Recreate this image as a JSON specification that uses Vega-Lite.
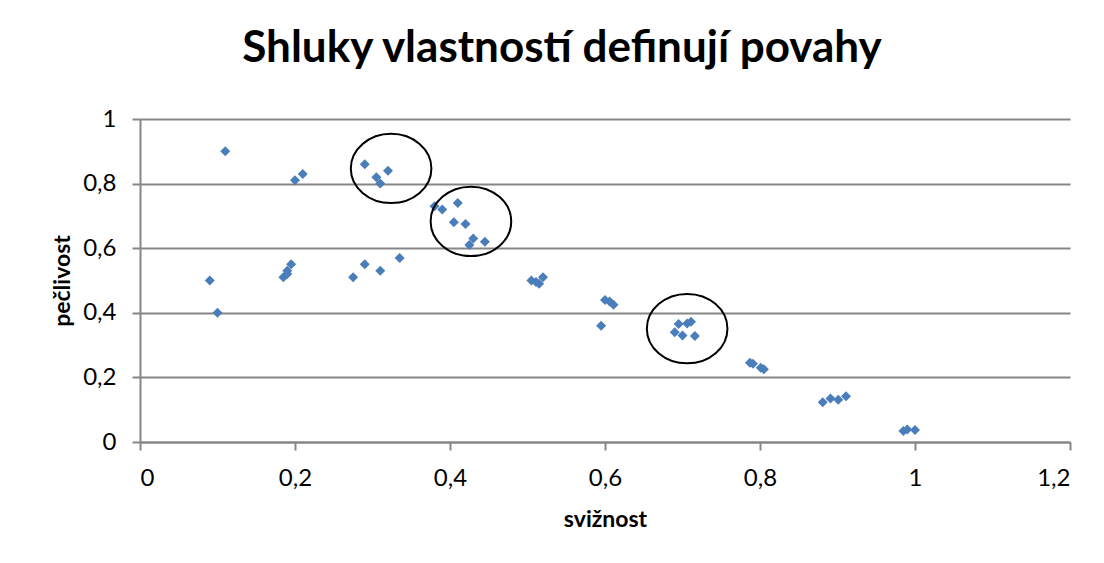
{
  "$schema": "https://vega.github.io/schema/vega-lite/v6.json",
  "autosize": {"type": "none"},
  "width": 930,
  "height": 323,
  "padding": {"left": 140, "top": 119, "right": 34, "bottom": 121},
  "background": "white",
  "title": {
    "text": "Shluky vlastností definují povahy",
    "font": "Lato",
    "fontSize": 44,
    "fontWeight": "bold",
    "color": "black",
    "anchor": "middle",
    "frame": "group",
    "dx": -43,
    "dy": 39,
    "baseline": "alphabetic",
    "offset": 40
  },
  "config": {
    "view": {"stroke": null},
    "axis": {
      "labelFont": "Lato",
      "labelFontSize": 24,
      "labelColor": "black",
      "titleFont": "Lato",
      "titleFontSize": 23,
      "titleFontWeight": "bold",
      "titleColor": "black",
      "domainColor": "#868686",
      "domainWidth": 2,
      "tickColor": "#868686",
      "tickWidth": 2,
      "tickSize": 8,
      "gridColor": "#868686",
      "gridWidth": 2
    }
  },
  "datasets": {
    "points": [
      {"svizn": 0.09, "peclivost": 0.50},
      {"svizn": 0.10, "peclivost": 0.40},
      {"svizn": 0.11, "peclivost": 0.90},
      {"svizn": 0.185, "peclivost": 0.51},
      {"svizn": 0.19, "peclivost": 0.52},
      {"svizn": 0.19, "peclivost": 0.53},
      {"svizn": 0.195, "peclivost": 0.55},
      {"svizn": 0.20, "peclivost": 0.81},
      {"svizn": 0.21, "peclivost": 0.83},
      {"svizn": 0.275, "peclivost": 0.51},
      {"svizn": 0.29, "peclivost": 0.55},
      {"svizn": 0.29, "peclivost": 0.86},
      {"svizn": 0.305, "peclivost": 0.82},
      {"svizn": 0.31, "peclivost": 0.80},
      {"svizn": 0.31, "peclivost": 0.53},
      {"svizn": 0.32, "peclivost": 0.84},
      {"svizn": 0.335, "peclivost": 0.57},
      {"svizn": 0.38, "peclivost": 0.73},
      {"svizn": 0.39, "peclivost": 0.72},
      {"svizn": 0.405, "peclivost": 0.68},
      {"svizn": 0.41, "peclivost": 0.74},
      {"svizn": 0.42, "peclivost": 0.675},
      {"svizn": 0.425, "peclivost": 0.61},
      {"svizn": 0.43, "peclivost": 0.63},
      {"svizn": 0.445, "peclivost": 0.62},
      {"svizn": 0.505, "peclivost": 0.50},
      {"svizn": 0.511, "peclivost": 0.495},
      {"svizn": 0.515, "peclivost": 0.49},
      {"svizn": 0.52, "peclivost": 0.51},
      {"svizn": 0.595, "peclivost": 0.36},
      {"svizn": 0.60, "peclivost": 0.44},
      {"svizn": 0.606, "peclivost": 0.435},
      {"svizn": 0.611, "peclivost": 0.425},
      {"svizn": 0.69, "peclivost": 0.34},
      {"svizn": 0.695, "peclivost": 0.365},
      {"svizn": 0.70, "peclivost": 0.33},
      {"svizn": 0.706, "peclivost": 0.367},
      {"svizn": 0.711, "peclivost": 0.372},
      {"svizn": 0.716, "peclivost": 0.328},
      {"svizn": 0.787, "peclivost": 0.245},
      {"svizn": 0.791, "peclivost": 0.242},
      {"svizn": 0.801, "peclivost": 0.23},
      {"svizn": 0.805, "peclivost": 0.225},
      {"svizn": 0.881, "peclivost": 0.123},
      {"svizn": 0.891, "peclivost": 0.135},
      {"svizn": 0.901, "peclivost": 0.131},
      {"svizn": 0.911, "peclivost": 0.142},
      {"svizn": 0.985, "peclivost": 0.034},
      {"svizn": 0.99, "peclivost": 0.039},
      {"svizn": 1.0, "peclivost": 0.037}
    ],
    "clusters": [
      {"svizn": 0.324, "peclivost": 0.847},
      {"svizn": 0.427, "peclivost": 0.683},
      {"svizn": 0.706, "peclivost": 0.351}
    ]
  },
  "layer": [
    {
      "data": {"name": "points"},
      "mark": {"type": "point", "shape": "diamond", "filled": true, "size": 100, "color": "#4a7ebb", "opacity": 1},
      "encoding": {
        "x": {
          "field": "svizn", "type": "quantitative", "title": "svižnost",
          "scale": {"domain": [0, 1.2], "nice": false, "zero": false},
          "axis": {
            "values": [0, 0.2, 0.4, 0.6, 0.8, 1, 1.2],
            "grid": false,
            "labelExpr": "replace(format(datum.value, '~g'), '.', ',')",
            "labelPadding": 16,
            "titlePadding": 18
          }
        },
        "y": {
          "field": "peclivost", "type": "quantitative", "title": "pečlivost",
          "scale": {"domain": [0, 1], "nice": false, "zero": false},
          "axis": {
            "values": [0, 0.2, 0.4, 0.6, 0.8, 1],
            "grid": true,
            "labelExpr": "replace(format(datum.value, '~g'), '.', ',')",
            "labelPadding": 16,
            "titlePadding": 8
          }
        }
      }
    },
    {
      "data": {"name": "clusters"},
      "mark": {"type": "point", "shape": "M-1,0A1,0.861 0 1,0 1,0A1,0.861 0 1,0 -1,0", "filled": false, "size": 6496, "stroke": "black", "strokeWidth": 2, "opacity": 1},
      "encoding": {
        "x": {"field": "svizn", "type": "quantitative"},
        "y": {"field": "peclivost", "type": "quantitative"}
      }
    }
  ]
}
